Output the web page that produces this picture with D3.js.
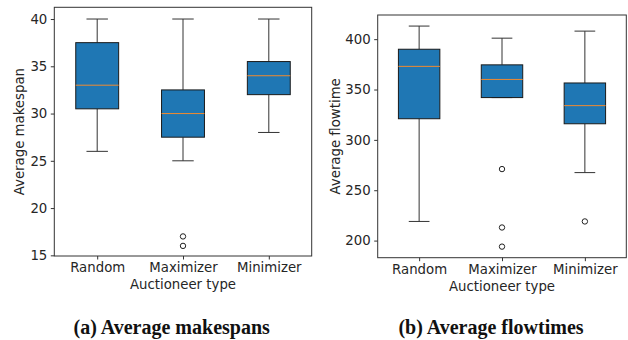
<!DOCTYPE html>
<html>
<head>
<meta charset="utf-8">
<script src="https://cdn.jsdelivr.net/npm/d3@7"></script>
<style>
  body { margin: 0; background: #fff; }
  svg { display: block; }
  .tick text { font-family: "DejaVu Sans", sans-serif; font-size: 13.3px; fill: #262626; }
  .lbl { font-family: "DejaVu Sans", sans-serif; font-size: 13.3px; fill: #262626; }
  .cap { font-family: "Liberation Serif", serif; font-weight: bold; font-size: 20px; fill: #111; }
</style>
</head>
<body>
<div id="chart"></div>
<script>
var categories = ["Random", "Maximizer", "Minimizer"];

// five-number summaries [whisker low, q1, median, q3, whisker high]
var makespanStats = [
    [26, 30.5, 33, 37.5, 40],
    [25, 27.5, 30, 32.5, 40],
    [28, 32, 34, 35.5, 40]
];
var makespanOutliers = [[], [17, 16], []];
var makespanTicks = [15, 20, 25, 30, 35, 40];

var flowtimeStats = [
    [219, 321, 373, 390, 413],
    [342, 342, 360, 374.5, 401],
    [267.5, 316, 334, 356.5, 408]
];
var flowtimeOutliers = [[], [271, 213, 194], [219]];
var flowtimeTicks = [200, 250, 300, 350, 400];

var svg = d3.select("#chart").append("svg")
    .attr("width", 628)
    .attr("height", 340);

function boxPanel(opts) {
    var x = d3.scaleLinear().domain([0.5, 3.5]).range([opts.left, opts.right]);
    var y = d3.scaleLinear().domain(opts.domain).range([opts.bottom, opts.top]);
    var g = svg.append("g");
    var bw = (x(1.25) - x(1));   // half of box width (0.5)

    // y axis
    g.append("g")
        .attr("transform", "translate(" + opts.left + ",0)")
        .call(d3.axisLeft(y).tickValues(opts.ticks).tickSize(3.5).tickPadding(3.5))
        .call(function(a) { a.select(".domain").remove(); a.selectAll("line").attr("stroke", "#333"); });

    // x axis
    g.append("g")
        .attr("transform", "translate(0," + opts.bottom + ")")
        .call(d3.axisBottom(x).tickValues([1, 2, 3]).tickSize(3.5).tickPadding(3.5)
            .tickFormat(function(d) { return categories[d - 1]; }))
        .call(function(a) { a.select(".domain").remove(); a.selectAll("line").attr("stroke", "#333"); });

    opts.stats.forEach(function(s, i) {
        var cx = x(i + 1);
        // whiskers
        g.append("line").attr("x1", cx).attr("x2", cx).attr("y1", y(s[0])).attr("y2", y(s[1]))
            .attr("stroke", "#333").attr("stroke-width", 1);
        g.append("line").attr("x1", cx).attr("x2", cx).attr("y1", y(s[3])).attr("y2", y(s[4]))
            .attr("stroke", "#333").attr("stroke-width", 1);
        // caps
        [s[0], s[4]].forEach(function(v) {
            g.append("line").attr("x1", cx - bw / 2).attr("x2", cx + bw / 2)
                .attr("y1", y(v)).attr("y2", y(v))
                .attr("stroke", "#333").attr("stroke-width", 1);
        });
        // box
        g.append("rect")
            .attr("x", cx - bw).attr("width", bw * 2)
            .attr("y", y(s[3])).attr("height", y(s[1]) - y(s[3]))
            .attr("fill", "#1f77b4").attr("stroke", "#1a1a1a").attr("stroke-width", 1);
        // median
        g.append("line").attr("x1", cx - bw).attr("x2", cx + bw)
            .attr("y1", y(s[2])).attr("y2", y(s[2]))
            .attr("stroke", "#f08a30").attr("stroke-width", 1);
        // outliers
        opts.outliers[i].forEach(function(v) {
            g.append("circle").attr("cx", cx).attr("cy", y(v)).attr("r", 2.7)
                .attr("fill", "none").attr("stroke", "#222").attr("stroke-width", 1);
        });
    });

    // frame
    g.append("rect")
        .attr("x", opts.left).attr("y", opts.top)
        .attr("width", opts.right - opts.left).attr("height", opts.bottom - opts.top)
        .attr("fill", "none").attr("stroke", "#333").attr("stroke-width", 1);

    // axis labels
    g.append("text").attr("class", "lbl")
        .attr("text-anchor", "middle")
        .attr("x", (opts.left + opts.right) / 2).attr("y", opts.bottom + 33)
        .text("Auctioneer type");
    g.append("text").attr("class", "lbl")
        .attr("text-anchor", "middle")
        .attr("transform", "translate(" + opts.ylabelX + "," + (opts.top + opts.bottom) / 2 + ") rotate(-90)")
        .text(opts.ylabel);

    svg.append("text").attr("class", "cap")
        .attr("text-anchor", "middle")
        .attr("x", opts.capX).attr("y", 334)
        .text(opts.caption);
}

boxPanel({
    left: 54.3, right: 311.7, top: 7.3, bottom: 256,
    domain: [14.93, 41.24], ticks: makespanTicks,
    stats: makespanStats, outliers: makespanOutliers,
    ylabel: "Average makespan", ylabelX: 24,
    caption: "(a) Average makespans", capX: 171.7
});

boxPanel({
    left: 377.7, right: 626.3, top: 15, bottom: 257.7,
    domain: [183, 424], ticks: flowtimeTicks,
    stats: flowtimeStats, outliers: flowtimeOutliers,
    ylabel: "Average flowtime", ylabelX: 340,
    caption: "(b) Average flowtimes", capX: 491
});
</script>
</body>
</html>
